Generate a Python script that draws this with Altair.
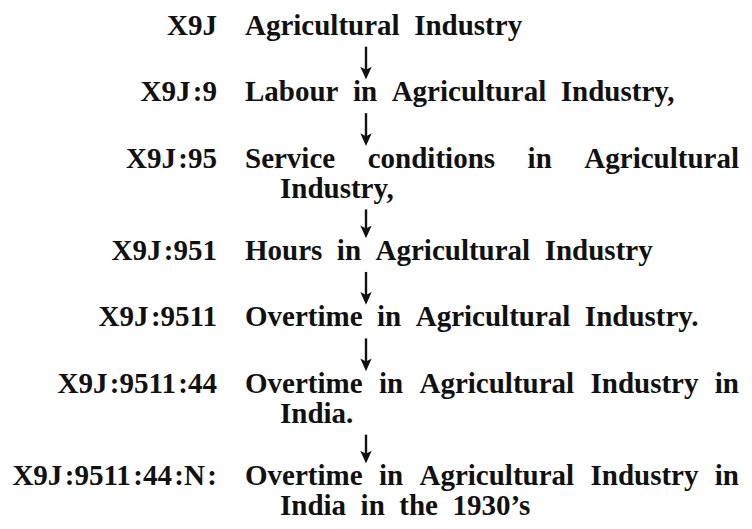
import altair as alt
import pandas as pd

# ---- content -------------------------------------------------------------
HS = "\u200a"  # hair space before the colons of the class numbers
codes = [
    "X9J",
    "X9J" + HS + ":9",
    "X9J" + HS + ":95",
    "X9J" + HS + ":951",
    "X9J" + HS + ":9511",
    "X9J" + HS + ":9511" + HS + ":44",
    "X9J" + HS + ":9511" + HS + ":44" + HS + ":N" + HS + ":",
]
first_lines = [
    "Agricultural Industry",
    "Labour in Agricultural Industry,",
    "Service conditions in Agricultural",
    "Hours in Agricultural Industry",
    "Overtime in Agricultural Industry.",
    "Overtime in Agricultural Industry in",
    "Overtime in Agricultural Industry in",
]
second_lines = ["", "", "Industry,", "", "", "India.", "India in the 1930\u2019s"]

# ---- layout / style ------------------------------------------------------
FONT = "Liberation Serif"
SIZE = 29
INK = "#111111"
CODE_RIGHT = 217
DESC_LEFT = 245
WRAP_LEFT = 280
JUSTIFY_RIGHT = 739
ARROW_X = 366
TOP_BASELINE = 35
ENTRY_STEP = 67
AFTER_WRAP_STEP = 63
WRAP_STEP = 30
WIDE = "\u2002"  # the old typesetting uses wide word spaces

# Times New Roman Bold advance widths (1/1000 em) for justification
W = {" ": 250, ",": 250, ".": 250, ":": 333, "\u2019": 333, "'": 278,
     "A": 722, "I": 389, "O": 778, "S": 556, "H": 778, "L": 667, "N": 722,
     "X": 722, "J": 500, "a": 500, "b": 556, "c": 444, "d": 556, "e": 444,
     "g": 500, "h": 556, "i": 278, "l": 278, "m": 833, "n": 556, "o": 500,
     "r": 444, "s": 389, "t": 333, "u": 556, "v": 500, "y": 500}


def text_width(s):
    return sum(W.get(ch, 500) for ch in s) * SIZE / 1000.0


def widen(s):
    return s.replace(" ", WIDE)


code_rows, word_rows, arrow_rows = [], [], []
y = TOP_BASELINE
prev_last = None
for i, (code, l1, l2) in enumerate(zip(codes, first_lines, second_lines)):
    if i > 0:
        y = prev_last + (AFTER_WRAP_STEP if second_lines[i - 1] else ENTRY_STEP)
        arrow_rows.append({"x": ARROW_X, "top": prev_last + 12, "tip": y - 22,
                           "shaft_end": y - 27})
    code_rows.append({"x": CODE_RIGHT, "y": y, "t": code})
    if l2:
        words = l1.split(" ")
        total = sum(text_width(w) for w in words)
        gap = (JUSTIFY_RIGHT - DESC_LEFT - total) / (len(words) - 1)
        xx = DESC_LEFT
        for w in words:
            word_rows.append({"x": xx, "y": y, "t": w})
            xx += text_width(w) + gap
        y2 = y + WRAP_STEP
        word_rows.append({"x": WRAP_LEFT, "y": y2, "t": widen(l2)})
        prev_last = y2
    else:
        word_rows.append({"x": DESC_LEFT, "y": y, "t": widen(l1)})
        prev_last = y

codes_df = pd.DataFrame(code_rows)
words_df = pd.DataFrame(word_rows)
arrows_df = pd.DataFrame(arrow_rows)

xs = alt.Scale(domain=[8, 744], zero=False, nice=False)
ys = alt.Scale(domain=[8, 521], zero=False, nice=False, reverse=True)

code_layer = alt.Chart(codes_df).mark_text(
    align="right", baseline="alphabetic", font=FONT, fontSize=SIZE,
    fontWeight="bold", color=INK
).encode(x=alt.X("x:Q", scale=xs, axis=None),
         y=alt.Y("y:Q", scale=ys, axis=None), text="t:N")

word_layer = alt.Chart(words_df).mark_text(
    align="left", baseline="alphabetic", font=FONT, fontSize=SIZE,
    fontWeight="bold", color=INK
).encode(x=alt.X("x:Q", scale=xs, axis=None),
         y=alt.Y("y:Q", scale=ys, axis=None), text="t:N")

shaft = alt.Chart(arrows_df).mark_rule(strokeWidth=2.4, color=INK).encode(
    x=alt.X("x:Q", scale=xs, axis=None),
    y=alt.Y("top:Q", scale=ys, axis=None),
    y2="shaft_end:Q")

head = alt.Chart(arrows_df).mark_point(
    shape="M-0.95,-2.1L0,-1.6L0.95,-2.1L0,0Z", filled=True, size=144,
    color=INK, opacity=1, strokeWidth=0
).encode(x=alt.X("x:Q", scale=xs, axis=None),
         y=alt.Y("tip:Q", scale=ys, axis=None))

chart = alt.layer(code_layer, word_layer, shaft, head).properties(
    width=736, height=513, padding=0,
    autosize=alt.AutoSizeParams(type="fit", contains="padding"),
    background="white"
).configure_view(stroke=None)

chart.save("out.html", embed_options={"renderer": "svg", "actions": False})
